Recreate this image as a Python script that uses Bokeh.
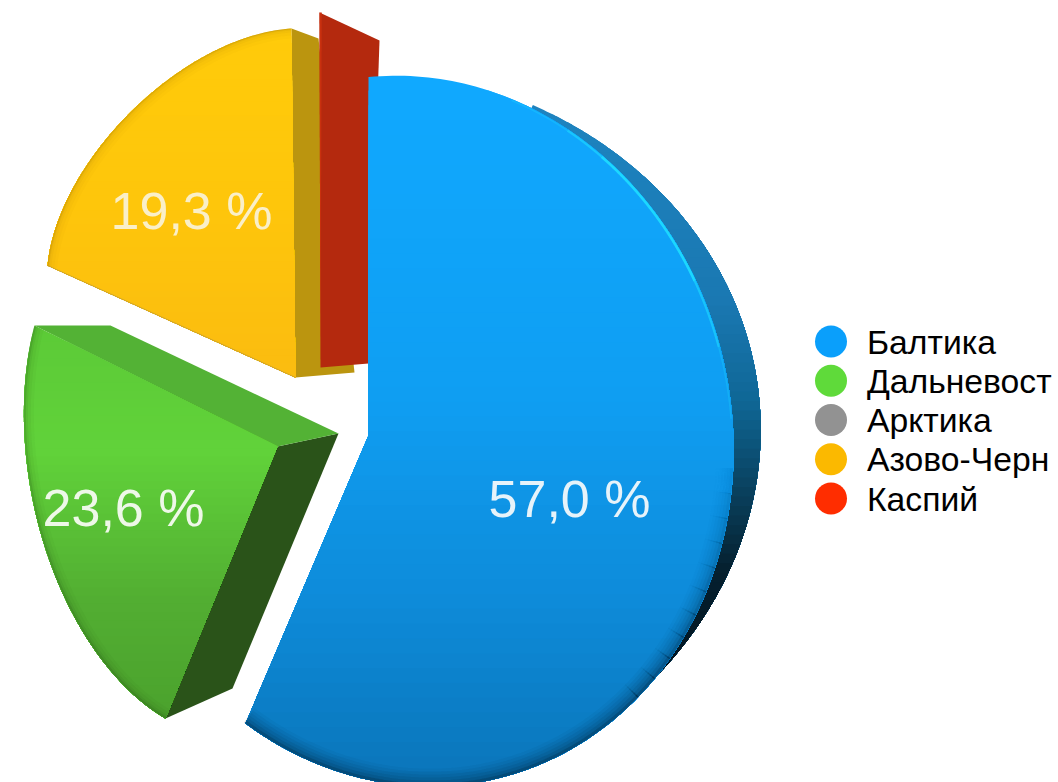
import numpy as np
from bokeh.plotting import figure
from bokeh.models import Range1d, ColumnDataSource
from bokeh.core.properties import value
from bokeh.embed import file_html
from bokeh.resources import INLINE

# ---------- data ----------
categories = ["Балтика", "Дальневост", "Арктика", "Азово-Черн", "Каспий"]
shares = [57.0, 23.6, 0.0, 19.3, 0.1]
colors = ["#0a9ffb", "#5fda3a", "#929292", "#fbb900", "#ff2d00"]
pct_labels = ["57,0 %", "23,6 %", "", "19,3 %", ""]

# ---------- camera: where each exploded slice lands on the page ----------
CAM_BLUE = dict(apex=(368, 435), start=(368, 77), mid=(727, 505), end=(245, 723),
                rim=(412.9, 430.6, 357.4, 318.0, -103.46))
CAM_SIDE = (324.7, 439.9, 436.0, 375.3, 174.55)
CAM_GREEN = dict(apex=(277, 446), start=(165, 718), mid=(44, 545), end=(34, 325),
                 rim=(195.4, 466.6, 273.8, 166.5, -101.46))
CAM_YELLOW = dict(apex=(295, 377), start=(47, 265), mid=(128, 113), end=(291, 28),
                  rim=(214.4, 194.0, 204.9, 117.8, 135.58))
LABEL_POS = [(569, 498), (123, 507), None, (191, 210), None]
FONT = value("Liberation Sans")


def solve_h(src, dst):
    A, b = [], []
    for (u, v), (x, y) in zip(src, dst):
        A.append([u, v, 1, 0, 0, 0, -u * x, -v * x]); b.append(x)
        A.append([0, 0, 0, u, v, 1, -u * y, -v * y]); b.append(y)
    return np.append(np.linalg.solve(np.array(A, float), np.array(b, float)), 1).reshape(3, 3)


def uv(frac):
    a = np.pi / 2 - 2 * np.pi * np.asarray(frac)
    return np.cos(a), np.sin(a)


def camera(cam, f0, f1):
    fm = (f0 + f1) / 2
    src = [(0, 0), uv(f0), uv(fm), uv(f1)]
    return solve_h(src, [cam["apex"], cam["start"], cam["mid"], cam["end"]])


def project(H, u, v):
    w = H[2, 0] * u + H[2, 1] * v + H[2, 2]
    return (H[0, 0] * u + H[0, 1] * v + H[0, 2]) / w, (H[1, 0] * u + H[1, 1] * v + H[1, 2]) / w


def arc(H, cam, ell, f0, f1, n=200, inset=0.0):
    """Rays from the slice's apex, cut by the projected rim ellipse."""
    ax, ay = cam["apex"]
    u, v = uv(np.linspace(f0, f1, n))
    hx, hy = project(H, u, v)
    dx, dy = hx - ax, hy - ay
    cx, cy, a, b, phi = ell
    c, s = np.cos(np.radians(phi)), np.sin(np.radians(phi))
    ox, oy = ax - cx, ay - cy
    p1, p2 = (ox * c + oy * s) / a, (-ox * s + oy * c) / b
    q1, q2 = (dx * c + dy * s) / a, (-dx * s + dy * c) / b
    A = q1 ** 2 + q2 ** 2
    B = 2 * (p1 * q1 + p2 * q2)
    C = p1 ** 2 + p2 ** 2 - 1
    t = (-B + np.sqrt(np.maximum(B ** 2 - 4 * A * C, 0))) / (2 * A)
    x, y = ax + t * dx, ay + t * dy
    if inset:
        L = np.hypot(x - ax, y - ay)
        x, y = ax + (x - ax) * (1 - inset / L), ay + (y - ay) * (1 - inset / L)
    return x, y


def wedge(H, cam, f0, f1, ell=None):
    x, y = arc(H, cam, ell or cam["rim"], f0, f1)
    return np.r_[cam["apex"][0], x], np.r_[cam["apex"][1], y]


def clip_below(x, y, y0):
    ox, oy = [], []
    n = len(x)
    for i in range(n):
        j = (i + 1) % n
        a, b = y[i] >= y0, y[j] >= y0
        if a:
            ox.append(x[i]); oy.append(y[i])
        if a != b:
            t = (y0 - y[i]) / (y[j] - y[i])
            ox.append(x[i] + t * (x[j] - x[i])); oy.append(y0)
    return ox, oy


def rgb(h):
    return [int(h[i:i + 2], 16) for i in (1, 3, 5)]


def gradient(p, x, y, stops, bands=48):
    ys, cs = zip(*stops)
    cs = np.array([rgb(c) for c in cs], float)
    top, bot = float(np.min(y)), float(np.max(y))
    levels = np.linspace(top, bot, bands, endpoint=False)
    xs_, ys_, fs = [], [], []
    for lv in levels:
        cx, cy = clip_below(list(x), list(y), lv if lv > top else top - 1)
        if len(cx) < 3:
            continue
        xs_.append(cx); ys_.append(cy)
        c = [np.interp(lv + (bot - top) / bands / 2, ys, cs[:, k]) for k in range(3)]
        fs.append("#%02x%02x%02x" % tuple(int(round(v)) for v in c))
    p.patches(xs_, ys_, fill_color=fs, line_color=None)


def rim(p, H, cam, f0, f1, color, layers, fade=1.0):
    for w, a in layers:
        x, y = arc(H, cam, cam["rim"], f0, f1, inset=w / 2)
        p.line(x, y, line_color=color, line_alpha=a * fade, line_width=w)


p = figure(width=1058, height=782, x_range=Range1d(0, 1058), y_range=Range1d(782, 0),
           output_backend="svg", toolbar_location=None, min_border=0, outline_line_color=None)
p.axis.visible = False
p.grid.visible = False

# cumulative shares
cum = np.cumsum([0] + shares) / sum(shares)
blue_f = (cum[0], cum[1])
green_f = (cum[1], cum[2])
yellow_f = (cum[3], cum[4])
red_f = (cum[4], cum[5])

H_b = camera(CAM_BLUE, *blue_f)
H_g = camera(CAM_GREEN, *green_f)
H_y = camera(CAM_YELLOW, *yellow_f)

# ---------- blue thickness ----------
sx, sy = wedge(H_b, CAM_BLUE, 0.08, 0.36, ell=CAM_SIDE)
gradient(p, sx, sy, [(100, "#1e84c0"), (300, "#1a78b2"), (400, "#0f6796"), (480, "#0a4564"),
                     (570, "#05202f"), (680, "#02141f")], bands=60)

# ---------- yellow ----------
yx, yy = wedge(H_y, CAM_YELLOW, *yellow_f)
end_y = (yx[-1], yy[-1])
ap_y = CAM_YELLOW["apex"]
YELLOW_DEPTH_OUT = (27, 10)
YELLOW_DEPTH_IN = (59, -5)
p.patch([ap_y[0], end_y[0], end_y[0] + YELLOW_DEPTH_OUT[0], ap_y[0] + YELLOW_DEPTH_IN[0]],
        [ap_y[1], end_y[1], end_y[1] + YELLOW_DEPTH_OUT[1], ap_y[1] + YELLOW_DEPTH_IN[1]],
        fill_color="#bb950f", line_color=None)
gradient(p, yx, yy, [(28, "#ffcb0a"), (200, "#fec60b"), (377, "#fbbc10")])
rim(p, H_y, CAM_YELLOW, *yellow_f, "#8a6a10", [(10, 0.025), (7, 0.03), (4, 0.05), (2, 0.08), (1, 0.2)])
p.line([yx[0], yx[1]], [yy[0], yy[1]], line_color="#a08a50", line_width=1, line_alpha=0.5)

# ---------- red: sliver plus its wall ----------
RED_APEX = (320, 367)
RED_OUT = (319, 12)
RED_DEPTH_OUT = (60, 28)
RED_DEPTH_IN = (48, -4)
red_w = (red_f[1] - red_f[0]) * 2 * np.pi * 355
p.patch([RED_APEX[0], RED_OUT[0], RED_OUT[0] + RED_DEPTH_OUT[0], RED_APEX[0] + RED_DEPTH_IN[0]],
        [RED_APEX[1], RED_OUT[1], RED_OUT[1] + RED_DEPTH_OUT[1], RED_APEX[1] + RED_DEPTH_IN[1]],
        fill_color="#b4290e", line_color=None)
p.patch([RED_APEX[0], RED_OUT[0], RED_OUT[0] + red_w],
        [RED_APEX[1], RED_OUT[1], RED_OUT[1]], fill_color="#c9300f", line_color=None)

# ---------- blue face ----------
bx, by = wedge(H_b, CAM_BLUE, *blue_f)
gradient(p, bx, by, [(75, "#10a9ff"), (400, "#0f9ef2"), (600, "#0e8bd9"), (790, "#0a74b8")])
# cyan rim light
for f0, f1, a, w in [(0.07, 0.10, 0.25, 1.6), (0.10, 0.12, 0.55, 2.2), (0.12, 0.19, 0.85, 2.6),
                     (0.19, 0.22, 0.55, 2.2), (0.22, 0.25, 0.25, 1.6)]:
    x, y = arc(H_b, CAM_BLUE, CAM_BLUE["rim"], f0, f1, inset=1.3)
    p.line(x, y, line_color="#1fe0ff", line_alpha=a, line_width=w)
# dark rim fading in around the lower right
BLUE_RIM = [(18, 0.035), (15, 0.05), (12, 0.06), (9, 0.08), (6, 0.11), (3, 0.2)]
edges = np.linspace(0.27, 0.37, 11)
for i in range(10):
    rim(p, H_b, CAM_BLUE, edges[i], edges[i + 1] + 0.0005, "#00182a", BLUE_RIM, fade=(i + 1) / 10)
rim(p, H_b, CAM_BLUE, 0.37, blue_f[1], "#00182a", BLUE_RIM)

# ---------- green ----------
gx, gy = wedge(H_g, CAM_GREEN, *green_f)
ap_g = CAM_GREEN["apex"]
st_g, en_g = (gx[1], gy[1]), (gx[-1], gy[-1])
GREEN_DEPTH_IN = (61, -13)
GREEN_DEPTH_START = (67, -30)
GREEN_DEPTH_END = (76, 0)
p.patch([ap_g[0], ap_g[0] + GREEN_DEPTH_IN[0], st_g[0] + GREEN_DEPTH_START[0], st_g[0]],
        [ap_g[1], ap_g[1] + GREEN_DEPTH_IN[1], st_g[1] + GREEN_DEPTH_START[1], st_g[1]],
        fill_color="#2a5319", line_color=None)
p.patch([ap_g[0], ap_g[0] + GREEN_DEPTH_IN[0], en_g[0] + GREEN_DEPTH_END[0], en_g[0]],
        [ap_g[1], ap_g[1] + GREEN_DEPTH_IN[1], en_g[1] + GREEN_DEPTH_END[1], en_g[1]],
        fill_color="#53b235", line_color=None)
gradient(p, gx, gy, [(325, "#5cca37"), (450, "#61d23a"), (600, "#52ae32"), (718, "#4ba22d")])
rim(p, H_g, CAM_GREEN, *green_f, "#16300c", [(10, 0.03), (7, 0.04), (4, 0.06), (2, 0.12)])

# ---------- percent labels ----------
lbl = [(pos, t) for pos, t in zip(LABEL_POS, pct_labels) if pos]
src = ColumnDataSource(dict(x=[q[0][0] for q in lbl], y=[q[0][1] for q in lbl], t=[q[1] for q in lbl],
                            c=["#e6f3fa", "#eef8e8", "#faefc8"]))
p.text("x", "y", text="t", source=src, text_color="c", text_font=FONT, text_font_size="52px",
       text_align="center", text_baseline="middle")

# ---------- legend ----------
LEG_X, LEG_Y0, LEG_STEP, LEG_TX = 830.5, 341, 39.25, 866.5
ly = [LEG_Y0 + i * LEG_STEP for i in range(len(categories))]
leg = ColumnDataSource(dict(x=[LEG_X] * 5, tx=[LEG_TX] * 5, y=ly, t=categories, c=colors))
p.scatter("x", "y", source=leg, size=32, fill_color="c", line_color=None)
p.text("tx", "y", text="t", source=leg, text_color="#000000", text_font=FONT, text_font_size="33.7px",
       text_align="left", text_baseline="middle")

open("out.html", "w").write(file_html(p, INLINE))
